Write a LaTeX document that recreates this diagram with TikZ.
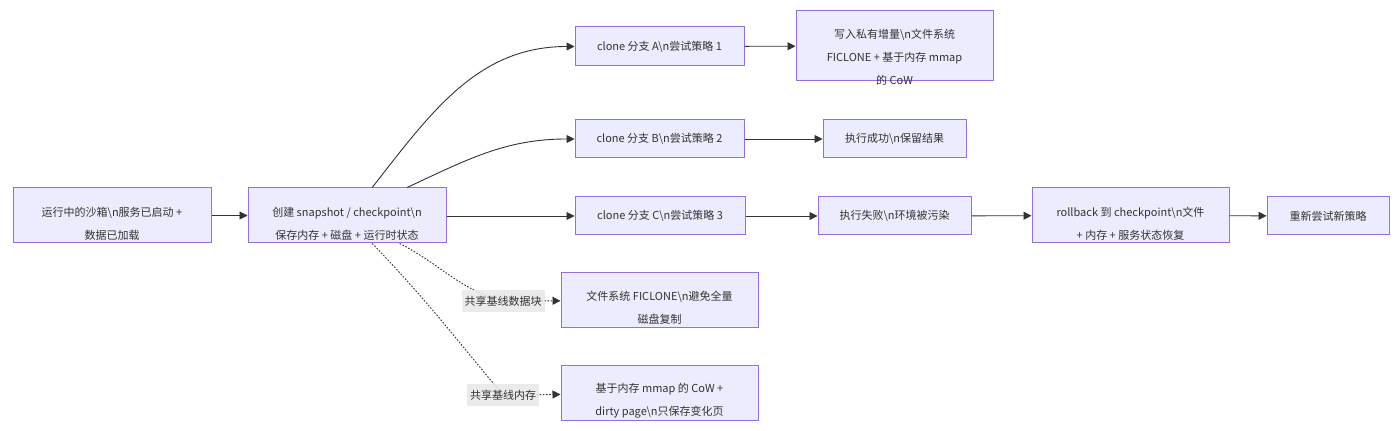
\documentclass[tikz,border=0pt]{standalone}
\usepackage{fontspec}
\setmainfont{Noto Sans CJK SC}
\usetikzlibrary{arrows.meta}
\definecolor{boxfill}{HTML}{ECECFF}
\definecolor{boxline}{HTML}{9370DB}
\definecolor{edgecol}{HTML}{333333}
\definecolor{labfill}{HTML}{E8E8E8}
\newcommand{\bsn}{\textbackslash n}
\newcommand{\down}[1]{\rule{0pt}{#1}}

\begin{document}
\begin{tikzpicture}[x=0.5pt, y=-0.5pt,
  every node/.style={font=\fontsize{5.5}{11.5}\selectfont, text=edgecol},
  box/.style={draw=boxline, fill=boxfill, line width=0.5pt, align=center, inner sep=0pt},
  edge/.style={draw=edgecol, line width=0.45pt, -{Triangle[length=4pt,width=4pt]}},
  dotedge/.style={edge, dash pattern=on 0.8pt off 0.8pt},
  lab/.style={fill=labfill, fill opacity=0.85, text opacity=1, inner xsep=1.5pt, inner ysep=3pt}]

\useasboundingbox[fill=white] (0,0) rectangle (1400,431);

\node[box, minimum width=99pt, minimum height=27.5pt] (sandbox) at (112,215.5) {\down{12.5pt}运行中的沙箱\bsn 服务已启动 +\\数据已加载}; % start
\node[box, minimum width=99pt, minimum height=27.5pt] (snap) at (347,215.5) {\down{12.5pt}创建 snapshot / checkpoint\bsn\\保存内存 + 磁盘 + 运行时状态}; % snapshot
\node[box, minimum width=84.5pt, minimum height=19.5pt] (cloneA) at (659.5,46.5) {clone 分支 A\bsn 尝试策略 1}; % branch A
\node[box, minimum width=98.5pt, minimum height=35pt, inner ysep=-2.5pt] (writeA) at (894.5,46) {\down{15.8pt}写入私有增量\bsn 文件系统\\FICLONE + 基于内存 mmap\\的 CoW}; % A result
\node[box, minimum width=84.5pt, minimum height=19pt] (cloneB) at (659.5,139) {clone 分支 B\bsn 尝试策略 2}; % branch B
\node[box, minimum width=71.5pt, minimum height=19pt] (okB) at (894.5,139) {执行成功\bsn 保留结果}; % B result
\node[box, minimum width=85pt, minimum height=19pt] (cloneC) at (660,216) {clone 分支 C\bsn 尝试策略 3}; % branch C
\node[box, minimum width=76.5pt, minimum height=19pt] (failC) at (894.5,216) {执行失败\bsn 环境被污染}; % C result
\node[box, minimum width=98.5pt, minimum height=27.5pt] (rollback) at (1130.5,215.5) {\down{12.5pt}rollback 到 checkpoint\bsn 文件\\+ 内存 + 服务状态恢复}; % rollback
\node[box, minimum width=61pt, minimum height=19pt] (retry) at (1328,216) {重新尝试新策略}; % retry
\node[box, minimum width=98.5pt, minimum height=27.5pt] (ficlone) at (659.5,300.5) {\down{12pt}文件系统 FICLONE\bsn 避免全量\\磁盘复制}; % disk
\node[box, minimum width=98.5pt, minimum height=27.5pt] (mmap) at (659.5,393.5) {\down{12pt}基于内存 mmap 的 CoW +\\dirty page\bsn 只保存变化页}; % memory

\draw[edge] (sandbox) -- (snap); % start to snapshot
\draw[edge] (snap.48) to[out=52, in=180] (cloneA.west); % fork A
\draw[edge] (snap.25) to[out=25, in=180] (cloneB.west); % fork B
\draw[edge] (snap.east |- cloneC) -- (cloneC); % fork C
\draw[edge] (cloneA) -- (writeA);
\draw[edge] (cloneB) -- (okB);
\draw[edge] (cloneC) -- (failC);
\draw[edge] (failC) -- (rollback);
\draw[edge] (rollback) -- (retry);
\draw[dotedge] (snap.-28) to[out=-27, in=165] (503,301) node[lab] (shareDisk) {共享基线数据块} -- (ficlone); % shared blocks
\draw[dotedge] (snap.-48) to[out=-46, in=130] (503,395) node[lab] (shareMem) {共享基线内存} -- (mmap); % shared memory

\end{tikzpicture}
\end{document}
